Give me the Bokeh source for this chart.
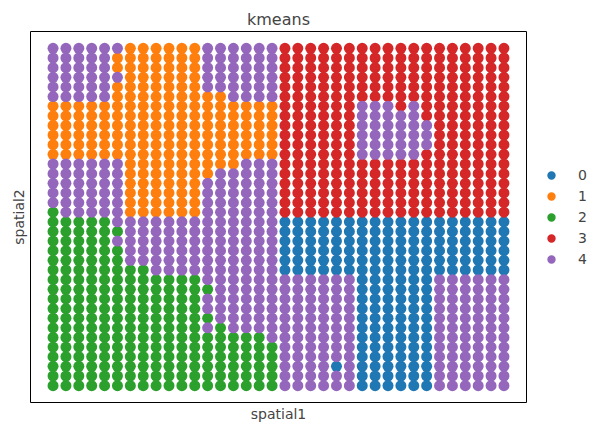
from bokeh.plotting import figure
from bokeh.models import Range1d, ColumnDataSource, Legend, LegendItem, Title
from bokeh.embed import file_html
from bokeh.resources import INLINE

categories = ["0", "1", "2", "3", "4"]
colors = ["#1f77b4", "#ff7f0e", "#2ca02c", "#d62728", "#9467bd"]

# cluster label per spot, one string per grid row (top to bottom), one char per column
grid_rows = [
    "444444111111444444333333333333333333",
    "444441111111444444333333333333333333",
    "444441111111444444333333333333333333",
    "444444111111444444333333333333333333",
    "444441111111444444333333333333333333",
    "444441111111114444333333333333333333",
    "111111111111111111333333444343333333",
    "111111111111111111333333444443333333",
    "111111111111111111333333444444333333",
    "111111111111111111333333444444333333",
    "111111111111111111333333444444333333",
    "111111111111111111333333444443333333",
    "444444111111111444333333333333333333",
    "444444111111144444333333333333333333",
    "444444111111444444333333333333333333",
    "444444111111444444333333333333333333",
    "444444111111444444333333333333333333",
    "244444111111444444333333333333333333",
    "222224444444444444000000000000000000",
    "222222444444444444000000000000000000",
    "222224444444444444000000000000000000",
    "222222444444444444000000000000000000",
    "222222444444444444000000000000000000",
    "222222224444444444000000000000000000",
    "222222222222444444444444000000444444",
    "222222222222244444444444000000444444",
    "222222222222444444444444000000444444",
    "222222222222444444444444000000444444",
    "222222222222244444444444000000444444",
    "222222222222424444444444000000444444",
    "222222222222222224444444000000444444",
    "222222222222222222444444000000444444",
    "222222222222222222444444000000444444",
    "222222222222222222444404000000444444",
    "222222222222222222444444000000444444",
    "222222222222222222444444000000444444",
]

FONT = "DejaVu Sans"

p = figure(frame_width=496, frame_height=371, output_backend="svg", toolbar_location=None,
           x_axis_type=None, y_axis_type=None,
           x_range=Range1d(-1.75, 36.75), y_range=Range1d(36.75, -1.75),
           min_border_left=30, min_border_right=75,
           min_border_top=31, min_border_bottom=29)
p.grid.visible = False
p.outline_line_color = "black"
p.outline_line_width = 1
p.background_fill_color = "white"
p.border_fill_color = "white"

p.title.text = "kmeans"
p.title.align = "center"
p.title.text_font = FONT
p.title.text_font_size = "16px"
p.title.text_font_style = "normal"
p.title.standoff = 6

p.add_layout(Title(text="spatial1", align="center", text_font=FONT,
                   text_font_size="14px", text_font_style="normal", standoff=2), "below")
p.add_layout(Title(text="spatial2", align="center", text_font=FONT,
                   text_font_size="14px", text_font_style="normal", standoff=7), "left")

items = []
for ci, cat in enumerate(categories):
    xs, ys = [], []
    for r, row in enumerate(grid_rows):
        for c, ch in enumerate(row):
            if ch == cat:
                xs.append(c)
                ys.append(r)
    src = ColumnDataSource(dict(x=xs, y=ys))
    rend = p.scatter("x", "y", source=src, size=11, color=colors[ci], line_color=None)
    items.append(LegendItem(label=cat, renderers=[rend]))

legend = Legend(items=items, location="center_left", border_line_color=None,
                background_fill_alpha=0, padding=0, margin=14, spacing=0,
                label_height=21, glyph_height=21, glyph_width=22, label_standoff=16,
                label_text_font=FONT, label_text_font_size="14px")
p.add_layout(legend, "right")

open("out.html", "w").write(file_html(p, INLINE))
